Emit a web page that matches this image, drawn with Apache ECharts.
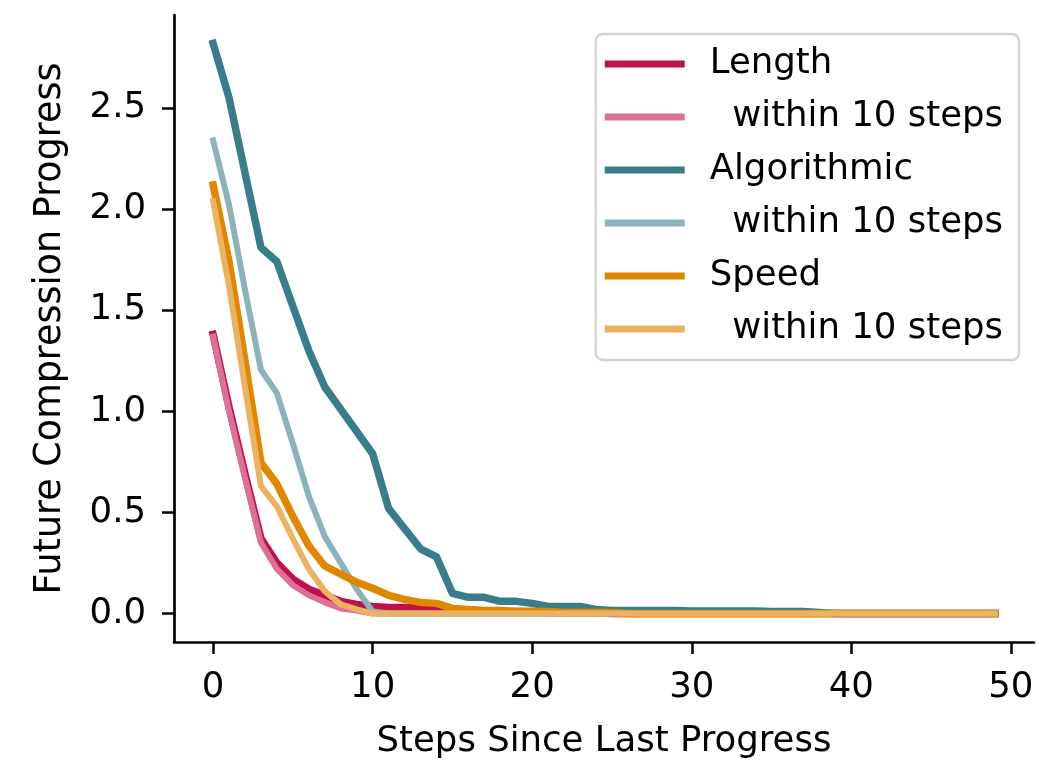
<!DOCTYPE html>
<html>
<head>
<meta charset="utf-8">
<script src="https://cdn.jsdelivr.net/npm/echarts@6/dist/echarts.min.js"></script>
<style>
  html, body { margin: 0; padding: 0; background: #ffffff; }
  #chart { width: 1039px; height: 767px; }
</style>
</head>
<body>
<div id="chart"></div>
<script>
// Steps since the last progress event (x axis)
const steps = [0,1,2,3,4,5,6,7,8,9,10,11,12,13,14,15,16,17,18,19,20,21,22,23,24,
               25,26,27,28,29,30,31,32,33,34,35,36,37,38,39,40,41,42,43,44,45,46,47,48,49];

// Mean future compression progress per step
const lengthAll = [1.38,1.02,0.69,0.37,0.25,0.17,0.12,0.09,0.06,0.045,0.035,0.03,0.03,0.03,0.025,0.02,0.015,0.01,0.01,0.01,
                   0.01,0.005,0.005,0.005,0.005,0,0,0,0,0,0,0,0,0,0,0,0,0,0,0,0,0,0,0,0,0,0,0,0,0];
const lengthWithin10 = [1.37,1.00,0.67,0.35,0.22,0.14,0.09,0.055,0.025,0.015,0,0,0,0,0,0,0,0,0,0,
                        0,0,0,0,0,0,0,0,0,0,0,0,0,0,0,0,0,0,0,0,0,0,0,0,0,0,0,0,0,0];
const algoAll = [2.82,2.55,2.18,1.81,1.74,1.52,1.30,1.12,1.01,0.90,0.79,0.52,0.42,0.32,0.28,0.10,0.08,0.08,0.06,0.06,
                 0.05,0.035,0.035,0.035,0.02,0.015,0.015,0.015,0.015,0.015,0.012,0.012,0.012,0.012,0.012,0.01,0.01,0.01,0.005,0,
                 0,0,0,0,0,0,0,0,0,0];
const algoWithin10 = [2.34,2.02,1.60,1.205,1.09,0.84,0.58,0.38,0.25,0.12,0.01,0,0,0,0,0,0,0,0,0,
                      0,0,0,0,0,0,0,0,0,0,0,0,0,0,0,0,0,0,0,0,0,0,0,0,0,0,0,0,0,0];
const speedAll = [2.12,1.74,1.25,0.745,0.64,0.48,0.335,0.235,0.195,0.155,0.125,0.09,0.07,0.055,0.05,0.025,0.02,0.015,0.015,0.01,
                  0.01,0.01,0.005,0.005,0.005,0.005,0,0,0,0,0,0,0,0,0,0,0,0,0,0,0,0,0,0,0,0,0,0,0,0];
const speedWithin10 = [2.04,1.62,1.12,0.63,0.53,0.37,0.22,0.11,0.045,0.02,0,0,0,0,0,0,0,0,0,0,
                       0,0,0,0,0,0,0,0,0,0,0,0,0,0,0,0,0,0,0,0,0,0,0,0,0,0,0,0,0,0];

// Tick labels
const xTicks = [0, 10, 20, 30, 40, 50];
const yTicks = [0, 0.5, 1.0, 1.5, 2.0, 2.5];

const FONT = 'DejaVu Sans';
const FS = 35.5;

const seriesDefs = [
  { name: 'Length',           label: 'Length',           values: lengthAll,      color: '#c0104e', width: 7.5 },
  { name: 'Length10',         label: 'within 10 steps',  values: lengthWithin10, color: '#dc7097', width: 6 },
  { name: 'Algorithmic',      label: 'Algorithmic',      values: algoAll,        color: '#377e8a', width: 7.5 },
  { name: 'Algorithmic10',    label: 'within 10 steps',  values: algoWithin10,   color: '#8ab3bb', width: 6 },
  { name: 'Speed',            label: 'Speed',            values: speedAll,       color: '#e08700', width: 7.5 },
  { name: 'Speed10',          label: 'within 10 steps',  values: speedWithin10,  color: '#ebb262', width: 6 }
];
const legendText = {};
seriesDefs.forEach(d => {
  legendText[d.name] = (d.label.startsWith('within') ? '  ' : '') + d.label;
});

const chart = echarts.init(document.getElementById('chart'), null, { renderer: 'canvas' });

chart.setOption({
  animation: false,
  backgroundColor: '#ffffff',
  textStyle: { fontFamily: FONT },
  grid: { left: 174, right: 5, top: 15, bottom: 125, containLabel: false },
  xAxis: {
    type: 'value',
    min: -2.45,
    max: 51.45,
    name: 'Steps Since Last Progress',
    nameLocation: 'middle',
    nameGap: 82,
    nameTextStyle: { fontFamily: FONT, fontSize: FS, color: '#000' },
    axisLine: { onZero: false, lineStyle: { color: '#000', width: 2.7 } },
    axisTick: { show: true, length: 12, lineStyle: { color: '#000', width: 2.5 }, customValues: xTicks },
    axisLabel: { fontFamily: FONT, fontSize: FS, color: '#000', margin: 28, customValues: xTicks,
                 formatter: v => String(v) },
    splitLine: { show: false }
  },
  yAxis: {
    type: 'value',
    min: -0.141,
    max: 2.96,
    name: 'Future Compression Progress',
    nameLocation: 'middle',
    nameGap: 105,
    nameTextStyle: { fontFamily: FONT, fontSize: 36.5, color: '#000' },
    axisLine: { show: true, onZero: false, lineStyle: { color: '#000', width: 2.7 } },
    axisTick: { show: true, length: 12, lineStyle: { color: '#000', width: 2.5 }, customValues: yTicks },
    axisLabel: { fontFamily: FONT, fontSize: FS, color: '#000', margin: 28, customValues: yTicks,
                 formatter: v => v.toFixed(1) },
    splitLine: { show: false }
  },
  legend: {
    right: 20,
    top: 34,
    orient: 'vertical',
    icon: 'rect',
    itemWidth: 80,
    itemHeight: 7,
    itemGap: 17,
    padding: [12, 16, 13, 9],
    backgroundColor: '#ffffff',
    borderColor: '#d4d4d4',
    borderWidth: 2.5,
    borderRadius: 7,
    selectedMode: false,
    textStyle: { fontFamily: FONT, fontSize: FS, color: '#000', padding: [0, 0, 0, 20] },
    formatter: name => legendText[name],
    data: seriesDefs.map(d => ({ name: d.name, itemStyle: { color: d.color } }))
  },
  series: seriesDefs.map(d => ({
    name: d.name,
    type: 'line',
    showSymbol: false,
    symbol: 'none',
    color: d.color,
    lineStyle: { color: d.color, width: d.width, cap: 'square', join: 'round' },
    emphasis: { disabled: true },
    data: steps.map((x, i) => [x, d.values[i]])
  }))
});
</script>
</body>
</html>
